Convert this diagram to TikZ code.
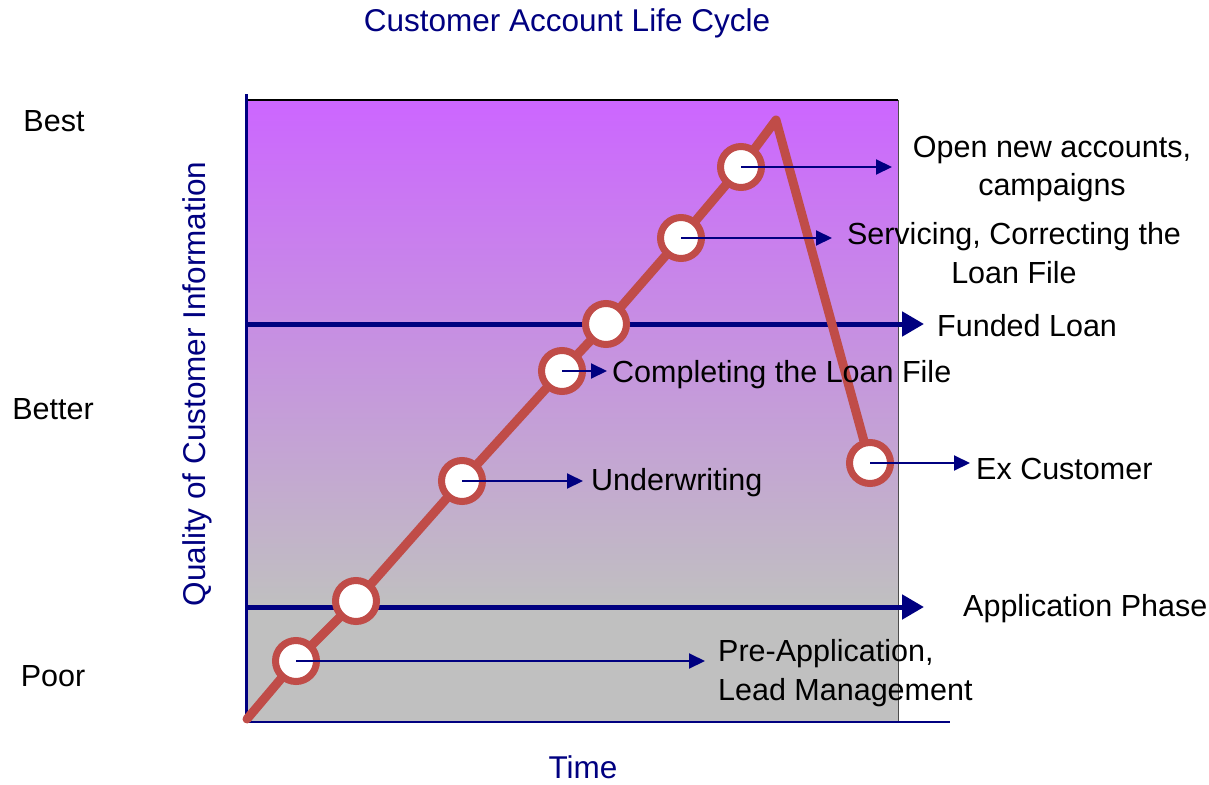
\documentclass[tikz,border=0pt]{standalone}
\usepackage{fontspec}
\setmainfont{Liberation Sans}
\usetikzlibrary{arrows.meta}
\definecolor{navyc}{RGB}{0,0,128}
\definecolor{redc}{RGB}{192,76,72}
\definecolor{topc}{RGB}{204,102,255}
\definecolor{grayc}{RGB}{192,192,192}
\tikzset{
  lbl/.style={font=\fontsize{30.5}{38.5}\selectfont, inner sep=0pt, text=black},
  navylbl/.style={font=\fontsize{31.5}{38}\selectfont, inner sep=0pt, text=navyc},
  ptc/.style={circle, draw=redc, line width=7pt, fill=white, minimum size=41pt, inner sep=0pt},
  thinarrow/.style={draw=navyc, line width=2pt, -{Triangle[length=16pt,width=15pt]}},
  thickarrow/.style={draw=navyc, line width=5pt, -{Triangle[length=22pt,width=24pt]}, shorten >=-2pt},
}
\begin{document}
\begin{tikzpicture}[x=1pt,y=-1pt]
\useasboundingbox (0,0) rectangle (1209,784);
% background
\shade[top color=topc, bottom color=grayc] (246,100) rectangle (898,607);
\fill[grayc] (246,607) rectangle (898,722);
% frame
\draw[black, line width=1.5pt] (246,100) -- (898,100);
\draw[black!70, line width=1pt] (898,100) -- (898,722);
\draw[navyc, line width=2pt] (246,722) -- (950,722);
\draw[navyc, line width=3pt] (246,94) -- (246,722);
% phase lines
\coordinate (f0) at (245,324);
\coordinate (f1) at (922,324);
\coordinate (a0) at (245,607);
\coordinate (a1) at (922,607);
\draw[thickarrow] (f0) -- (f1);
\draw[thickarrow] (a0) -- (a1);
% red path
\coordinate (s) at (247,719);
\coordinate (peak) at (776,120);
\coordinate (c1) at (296,661);
\coordinate (c2) at (356,601);
\coordinate (c3) at (462,481);
\coordinate (c4) at (562,371);
\coordinate (c5) at (606,324);
\coordinate (c6) at (681,238);
\coordinate (c7) at (741,167);
\coordinate (c8) at (870,463);
\draw[redc, line width=9pt, line cap=round, line join=round]
  (s) -- (c1) -- (c2) -- (c3) -- (c4) -- (c5) -- (c6) -- (c7) -- (peak) -- (c8);
\foreach \i in {1,...,8} \node[ptc] (n\i) at (c\i) {};
% labels
\node[navylbl] (title) at (567,23) {Customer Account Life Cycle};
\node[navylbl] (time) at (583,767) {Time};
\node[navylbl, rotate=90] (yl) at (197,384) {Quality of Customer Information};
\node[lbl] (best) at (54,121) {Best};
\node[lbl] (better) at (53,409) {Better};
\node[lbl] (poor) at (53,676) {Poor};
\node[lbl, anchor=west] (funded) at (937,326) {Funded Loan};
\node[lbl, anchor=west] (appl) at (963,609) {Application Phase};
\node[lbl, align=center] (open) at (1052,169) {Open new accounts,\\campaigns};
\node[lbl, align=center] (serv) at (1014,253) {Servicing, Correcting the\\Loan File};
\node[lbl, anchor=west] (compl) at (612,375) {Completing the Loan File};
\node[lbl, anchor=west] (under) at (591,483) {Underwriting};
\node[lbl, anchor=west] (exc) at (976,469) {Ex Customer};
\node[lbl, anchor=west, align=left] (pre) at (718,673) {Pre-Application,\\Lead Management};
% thin arrows
\coordinate (t1) at (705,661);
\coordinate (t3) at (583,481);
\coordinate (t4) at (607,371);
\coordinate (t6) at (832,238);
\coordinate (t7) at (892,167);
\coordinate (t8) at (970,463);
\draw[thinarrow] (c1) -- (t1);
\draw[thinarrow] (c3) -- (t3);
\draw[thinarrow] (c4) -- (t4);
\draw[thinarrow] (c6) -- (t6);
\draw[thinarrow] (c7) -- (t7);
\draw[thinarrow] (c8) -- (t8);
\end{tikzpicture}
\end{document}
